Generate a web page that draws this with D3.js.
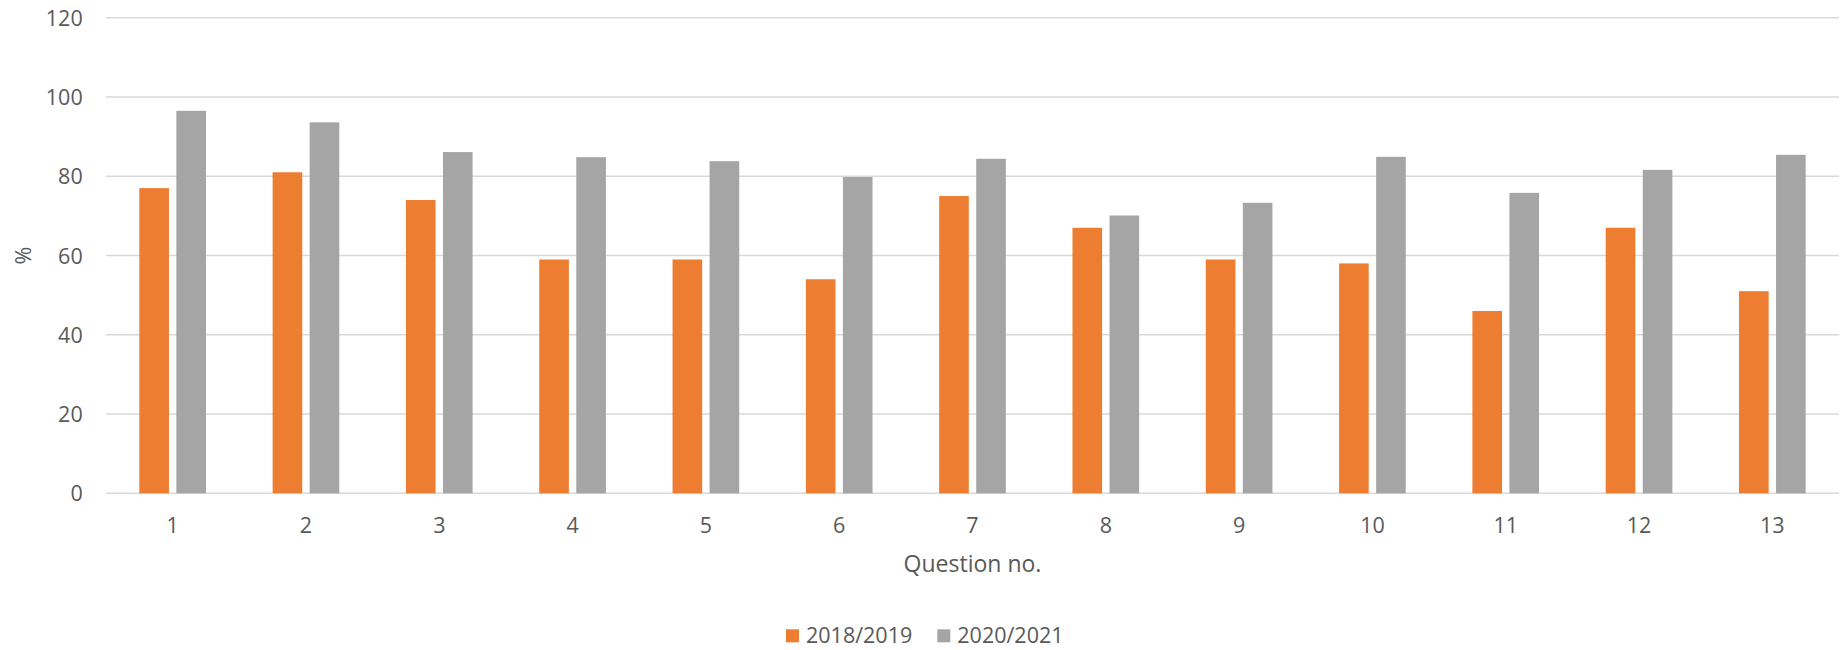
<!DOCTYPE html>
<html>
<head>
<meta charset="utf-8">
<script src="https://cdn.jsdelivr.net/npm/d3@7/dist/d3.min.js"></script>
<style>
  html, body { margin: 0; padding: 0; background: #fff; }
  svg text { font-family: "Open Sans", "Noto Sans", sans-serif; fill: #595959; }
</style>
</head>
<body>
<svg id="chart" width="1843" height="650"></svg>
<script>
const categories = ["1","2","3","4","5","6","7","8","9","10","11","12","13"];
const seriesNames = ["2018/2019", "2020/2021"];
const values2018 = [77, 81, 74, 59, 59, 54, 75, 67, 59, 58, 46, 67, 51];
const values2020 = [96.5, 93.6, 86.1, 84.8, 83.8, 79.8, 84.4, 70.1, 73.3, 84.9, 75.8, 81.6, 85.4];
const yTicks = [0, 20, 40, 60, 80, 100, 120];
const colors = ["#ED7D31", "#A5A5A5"];

const svg = d3.select("#chart");
const plotLeft = 106, plotRight = 1839, plotTop = 17.7, plotBottom = 493.3;

const x0 = d3.scaleBand().domain(categories).range([plotLeft, plotRight]).paddingInner(0.5).paddingOuter(0.25);
const x1 = d3.scaleBand().domain(seriesNames).range([0, x0.bandwidth()]).paddingInner(0.2).paddingOuter(0);
const y = d3.scaleLinear().domain([0, 120]).range([plotBottom, plotTop]);

// gridlines
svg.append("g").selectAll("line").data(yTicks).join("line")
  .attr("x1", plotLeft).attr("x2", plotRight)
  .attr("y1", d => y(d)).attr("y2", d => y(d))
  .attr("stroke", "#D9D9D9").attr("stroke-width", 1.5);

// y axis labels
const yAxis = d3.axisLeft(y).tickValues(yTicks).tickSize(0).tickPadding(0);
const gy = svg.append("g").attr("transform", `translate(82.7,0)`).call(yAxis);
gy.select(".domain").remove();
gy.selectAll("text").style("font-size", "21.5px").attr("fill", "#595959")
  .style("font-family", "'Open Sans', 'Noto Sans', sans-serif").attr("dy", "0.35em");

// x axis labels
const xAxis = d3.axisBottom(x0).tickSize(0).tickPadding(0);
const gx = svg.append("g").attr("transform", `translate(0,${plotBottom})`).call(xAxis);
gx.select(".domain").remove();
gx.selectAll("text").style("font-size", "21.5px").attr("fill", "#595959")
  .style("font-family", "'Open Sans', 'Noto Sans', sans-serif").attr("dy", null).attr("y", 40);

// bars
const rows = categories.map((c, i) => ({cat: c, vals: [values2018[i], values2020[i]]}));
const groups = svg.append("g").selectAll("g").data(rows).join("g")
  .attr("transform", d => `translate(${x0(d.cat)},0)`);
groups.selectAll("rect").data(d => d.vals.map((v, j) => ({name: seriesNames[j], v, j}))).join("rect")
  .attr("x", d => x1(d.name))
  .attr("width", x1.bandwidth())
  .attr("y", d => y(d.v))
  .attr("height", d => y(0) - y(d.v))
  .attr("fill", d => colors[d.j]);

// axis titles
svg.append("text").attr("x", (plotLeft + plotRight) / 2).attr("y", 571.5)
  .attr("text-anchor", "middle").style("font-size", "23px").text("Question no.");
svg.append("text").attr("transform", `translate(31,${(plotTop + plotBottom) / 2}) rotate(-90)`)
  .attr("text-anchor", "middle").style("font-size", "21.5px").text("%");

// legend
const legendX = [786, 937.3];
const lg = svg.append("g").selectAll("g").data(seriesNames).join("g")
  .attr("transform", (d, i) => `translate(${legendX[i]},629.3)`);
lg.append("rect").attr("width", 13).attr("height", 13).attr("fill", (d, i) => colors[i]);
lg.append("text").attr("x", 20).attr("y", 6.5).attr("dy", "0.35em")
  .style("font-size", "21.5px").text(d => d);
</script>
</body>
</html>
